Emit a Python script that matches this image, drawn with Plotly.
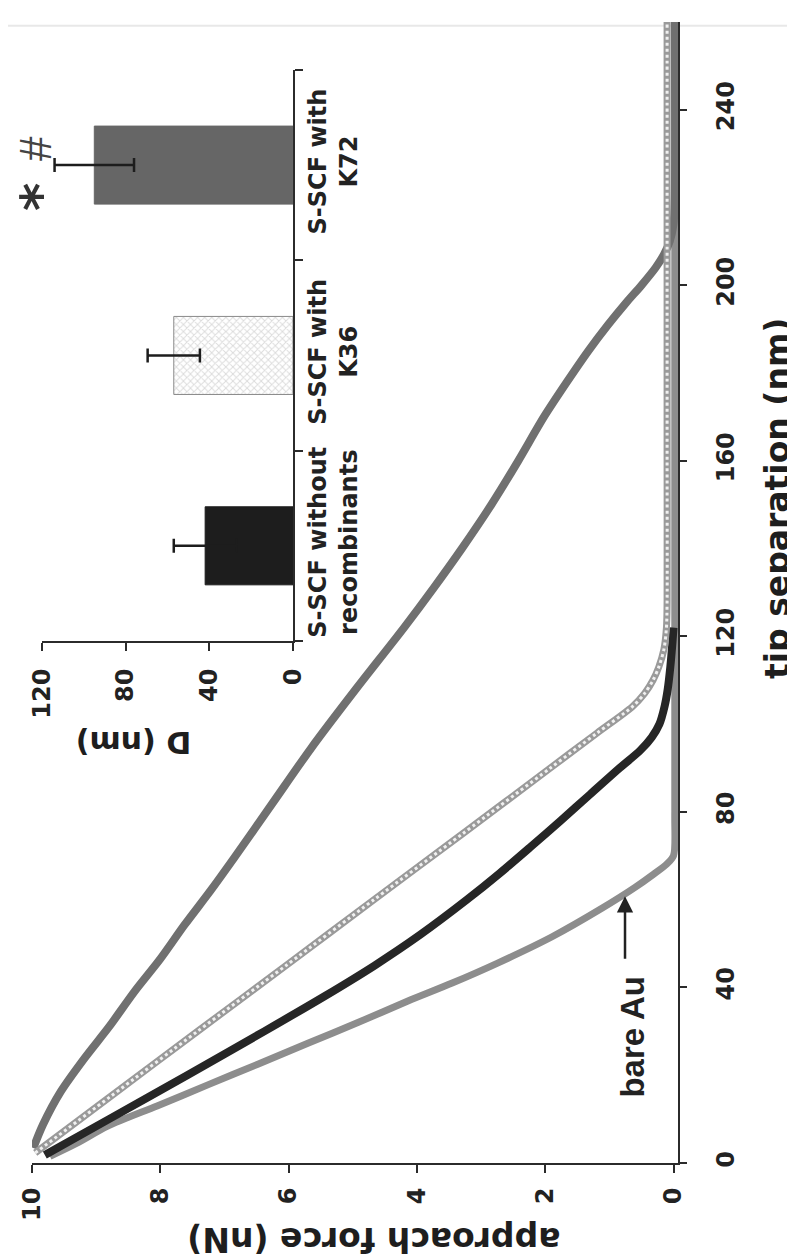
import plotly.graph_objects as go

# ---------------- data ----------------
# main panel: approach force (nN) versus tip separation (nm)
bare_au_sep = [1.5, 4.5, 8.4, 13, 17.8, 22.5, 27.3, 32, 36.9, 41, 45.5, 51.5, 58.1, 62.8, 65.6, 68.2, 70, 80, 260]
bare_au_force = [9.72, 9.3, 8.82, 8.05, 7.26, 6.48, 5.70, 4.92, 4.14, 3.45, 2.75, 1.9, 1.11, 0.6, 0.33, 0.1, 0.0, -0.02, -0.02]

no_recomb_sep = [1.8, 10, 20, 30, 38, 45, 52, 60, 66, 72, 78, 84, 90, 94, 97, 100, 104, 108, 113, 118, 122]
no_recomb_force = [9.8, 8.8, 7.58, 6.38, 5.44, 4.66, 3.95, 3.22, 2.71, 2.23, 1.76, 1.3, 0.84, 0.52, 0.34, 0.22, 0.14, 0.09, 0.05, 0.02, 0.0]

k36_sep = [2.3, 15, 30, 45, 60, 75, 90, 98, 104, 107, 110, 113, 117, 122, 128, 160, 260]
k36_force = [9.95, 8.79, 7.42, 6.04, 4.67, 3.29, 1.92, 1.19, 0.64, 0.45, 0.32, 0.23, 0.15, 0.11, 0.1, 0.1, 0.1]

k72_sep = [3.4, 8.7, 16.3, 23.9, 31, 39.1, 46.5, 54.3, 62, 69.5, 82, 94.5, 108, 122, 131, 140, 150, 160, 170,
           178, 185, 191, 196, 200, 204, 207, 210, 214, 220, 260]
k72_force = [9.98, 9.83, 9.55, 9.18, 8.8, 8.40, 8.0, 7.62, 7.22, 6.85, 6.25, 5.65, 4.95, 4.2, 3.74, 3.3, 2.84, 2.42, 2.02,
             1.66, 1.33, 1.02, 0.74, 0.5, 0.28, 0.15, 0.06, 0.0, -0.02, -0.02]

force_ticks = [0, 2, 4, 6, 8, 10]
sep_ticks = [0, 40, 80, 120, 160, 200, 240]

# inset: D (nm)
bar_categories = ["S-SCF without<br>recombinants", "S-SCF with<br>K36", "S-SCF with<br>K72"]
bar_values = [42, 57, 95]
bar_errors = [15, 12.5, 19]
d_ticks = [0, 40, 80, 120]

# ---------------- figure ----------------
FONT = "DejaVu Sans"
AXC = "#2b2b2b"

fig = go.Figure()

def curve(x, y, color, width, dash="solid"):
    fig.add_trace(go.Scatter(x=x, y=y, mode="lines", showlegend=False,
                             line=dict(color=color, width=width, dash=dash, shape="spline", smoothing=0.8)))

curve(bare_au_force, bare_au_sep, "#8d8d8d", 7)
curve(no_recomb_force, no_recomb_sep, "#262626", 8)
curve(k72_force, k72_sep, "#707070", 8)
curve(k36_force, k36_sep, "#9a9a9a", 7)
curve(k36_force, k36_sep, "#f0f0f0", 3, "dot")

# inset bars
fig.add_trace(go.Bar(
    x=bar_values, y=bar_categories, orientation="h",
    xaxis="x2", yaxis="y2", width=0.41, showlegend=False,
    marker=dict(
        color=["#1d1d1d", "#dcdcdc", "#666666"],
        pattern=dict(shape=["", "x", ""], fgcolor="#8a8a8a", size=5, solidity=0.35),
        line=dict(color=["#1d1d1d", "#8a8a8a", "#666666"], width=1),
    ),
    error_x=dict(type="data", array=bar_errors, color="#1d1d1d", thickness=2.5, width=7),
))

tickfont = dict(family=FONT, size=24, color="#222", weight="bold")

fig.update_layout(
    width=795, height=1258,
    template="none",
    paper_bgcolor="white", plot_bgcolor="white",
    margin=dict(l=24, r=125, t=14, b=103, autoexpand=False),
    showlegend=False,
    xaxis=dict(domain=[0, 1], range=[10, -0.07], anchor="y",
               tickvals=force_ticks, tickangle=-90, ticks="outside", ticklen=8, tickwidth=2,
               tickcolor=AXC, showline=True, linecolor=AXC, linewidth=2,
               showgrid=False, zeroline=False, tickfont=tickfont, ticklabelstandoff=5,
               automargin=False),
    yaxis=dict(domain=[0, 1], range=[0, 260], anchor="x", side="right",
               tickvals=sep_ticks, tickangle=-90, ticks="outside", ticklen=7, tickwidth=2,
               tickcolor=AXC, showline=True, linecolor=AXC, linewidth=2,
               showgrid=False, zeroline=False, tickfont=tickfont, ticklabelstandoff=18,
               automargin=False),
    xaxis2=dict(domain=[0.0155, 0.404], range=[120, 0], anchor="y2",
                tickvals=d_ticks, tickangle=-90, ticks="outside", ticklen=8, tickwidth=2,
                tickcolor=AXC, showline=True, linecolor=AXC, linewidth=2,
                showgrid=False, zeroline=False, tickfont=tickfont, ticklabelstandoff=8,
                automargin=False),
    yaxis2=dict(domain=[0.4575, 0.958], anchor="x2", side="right", type="category",
                categoryorder="array", categoryarray=bar_categories, range=[-0.5, 2.5],
                tickson="boundaries", tickangle=-90, ticks="outside", ticklen=8, tickwidth=2,
                tickcolor=AXC, showline=True, linecolor=AXC, linewidth=2,
                showgrid=False, zeroline=False, tickfont=tickfont, ticklabelstandoff=2,
                automargin=False),
)

title_font = dict(family=FONT, size=33, color="#1e1e1e", weight="bold")

fig.add_annotation(text="approach force (nN)", xref="paper", yref="paper", x=0.529, y=-0.0675,
                   textangle=180, showarrow=False, font=title_font, xanchor="center", yanchor="middle")
fig.add_annotation(text="tip separation (nm)", xref="paper", yref="paper", x=1.155, y=0.582,
                   textangle=-90, showarrow=False, font=title_font,
                   xanchor="center", yanchor="middle")
fig.add_annotation(text="D (nm)", xref="paper", yref="paper", x=0.158, y=0.368,
                   textangle=180, showarrow=False,
                   font=dict(family=FONT, size=30, color="#1e1e1e", weight="bold"),
                   xanchor="center", yanchor="middle")

# bare Au label + arrow
fig.add_annotation(text="", x=0.756, y=60.8, xref="x", yref="y", ax=0, ay=64,
                   showarrow=True, arrowhead=2, arrowsize=1.3, arrowwidth=2.5, arrowcolor="#222")
fig.add_annotation(text="<b>bare Au</b>", x=0.64, y=28.9, xref="x", yref="y", textangle=-90,
                   showarrow=False, font=dict(family="Liberation Sans", size=33, color="#222"))

# significance marks on K72 bar
fig.add_annotation(text="<b>*</b>", x=120, y=bar_categories[2], xref="x2", yref="y2", xshift=-2, yshift=-32,
                   textangle=-90, showarrow=False,
                   font=dict(family=FONT, size=54, color="#333"))
fig.add_annotation(text="#", x=120, y=bar_categories[2], xref="x2", yref="y2", xshift=-7, yshift=16,
                   textangle=-90, showarrow=False,
                   font=dict(family="Liberation Sans", size=44, color="#444"))

# faint scan border at top
fig.add_shape(type="line", xref="paper", yref="paper", x0=-0.04, x1=1.2, y0=0.9968, y1=0.9968,
              line=dict(color="#e8e8e8", width=2), layer="below")

fig.write_html("out.html")
